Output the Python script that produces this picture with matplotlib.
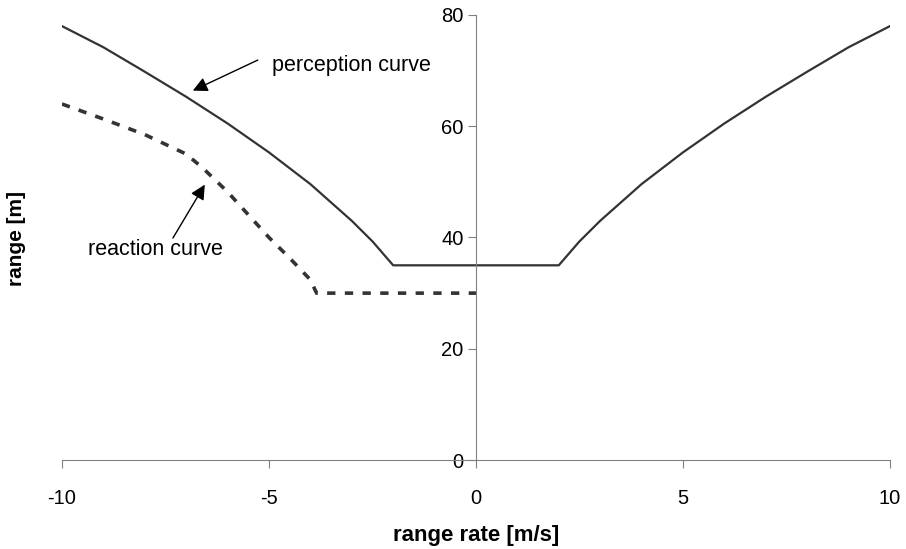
import matplotlib.pyplot as plt
import numpy as np

plt.rcParams['font.family'] = ['Liberation Sans', 'DejaVu Sans']
plt.rcParams['axes.unicode_minus'] = False

# ===== Data =====
# perception curve (symmetric around 0, flat between -2 and 2)
perc_x = [-10, -9, -8, -7, -6, -5, -4, -3, -2.5, -2, 2, 2.5, 3, 4, 5, 6, 7, 8, 9, 10]
perc_y = [78, 74.2, 69.8, 65.3, 60.5, 55.3, 49.6, 43, 39.3, 35, 35, 39.3, 43, 49.6, 55.3, 60.5, 65.3, 69.8, 74.2, 78]

# reaction curve
react_x = [-10, -9, -8, -7, -6.6, -6, -5.5, -5, -4.5, -4, -3.85, 0]
react_y = [64, 61.3, 58.5, 55, 52.5, 48.2, 44.1, 40, 36.3, 32.4, 30, 30]

x_ticks = [-10, -5, 0, 5, 10]
y_ticks = [0, 20, 40, 60, 80]

# ===== Figure =====
fig = plt.figure(figsize=(9.06, 5.49), dpi=100)
ax = fig.add_axes([0.0684, 0.1621, 0.9139, 0.8106])

ax.plot(perc_x, perc_y, color='#333333', lw=1.6, solid_joinstyle='round')
ax.plot(react_x, react_y, color='#333333', lw=2.6, dashes=(2.3, 2.6))

ax.set_xlim(-10, 10)
ax.set_ylim(0, 80)
ax.set_xticks(x_ticks)
ax.set_yticks(y_ticks)

# axis spines: y axis through x=0, x axis at bottom
for s in ['top', 'right']:
    ax.spines[s].set_visible(False)
ax.spines['left'].set_position(('data', 0))
ax.spines['left'].set_color('#808080')
ax.spines['bottom'].set_color('#808080')
ax.tick_params(axis='both', direction='out', length=6, color='#808080',
               labelsize=14.5, pad=3)
ax.tick_params(axis='x', pad=15)

ax.set_xlabel('range rate [m/s]', fontsize=16, fontweight='bold', labelpad=12)
fig.text(0.018, 1 - 238 / 549, 'range [m]', fontsize=15, fontweight='bold',
         rotation=90, ha='center', va='center')

# annotations
ax.text(-4.93, 71.0, 'perception curve', fontsize=15.5, va='center', ha='left')
ax.annotate('', xy=(-6.84, 66.4), xytext=(-5.27, 71.9),
            arrowprops=dict(arrowstyle='-|>', mutation_scale=22, color='black',
                            lw=1, shrinkA=0, shrinkB=0))
ax.text(-9.37, 37.8, 'reaction curve', fontsize=15.5, va='center', ha='left')
ax.annotate('', xy=(-6.55, 49.5), xytext=(-7.32, 39.9),
            arrowprops=dict(arrowstyle='-|>', mutation_scale=22, color='black',
                            lw=1, shrinkA=0, shrinkB=0))

fig.savefig('out.png', dpi=100)
